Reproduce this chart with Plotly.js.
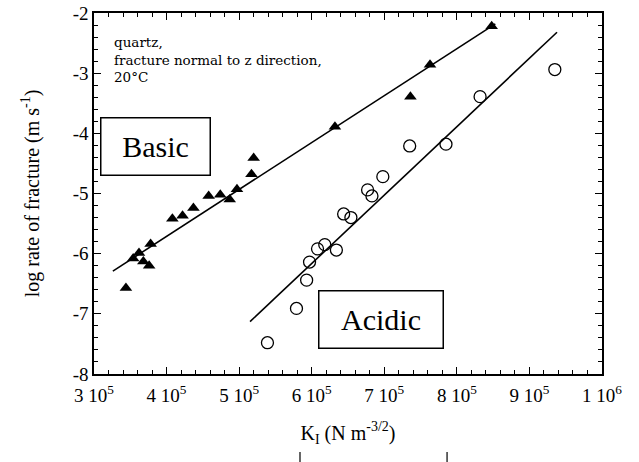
<!DOCTYPE html>
<html>
<head>
<meta charset="utf-8">
<script src="https://cdn.plot.ly/plotly-3.0.1.min.js"></script>
<style>
  html, body { margin: 0; padding: 0; background: #fff; }
  #chart { width: 639px; height: 462px; }
</style>
</head>
<body>
<div id="chart"></div>
<script>
// Fracture rate of quartz vs stress intensity factor K_I (N m^-3/2)
// Basic environment: filled triangles
const basicK = [3.44e5, 3.54e5, 3.62e5, 3.68e5, 3.76e5, 3.78e5, 4.08e5, 4.22e5, 4.37e5,
                4.58e5, 4.74e5, 4.87e5, 4.97e5, 5.17e5, 5.20e5, 6.32e5, 7.36e5, 7.63e5, 8.48e5];
const basicLogRate = [-6.57, -6.08, -5.99, -6.13, -6.20, -5.84, -5.42, -5.37, -5.24,
                      -5.04, -5.02, -5.10, -4.93, -4.68, -4.41, -3.89, -3.39, -2.86, -2.22];

// Acidic environment: open circles
const acidicK = [5.39e5, 5.79e5, 5.93e5, 5.97e5, 6.08e5, 6.18e5, 6.34e5, 6.44e5, 6.54e5,
                 6.77e5, 6.83e5, 6.98e5, 7.35e5, 7.85e5, 8.32e5, 9.35e5];
const acidicLogRate = [-7.48, -6.91, -6.44, -6.14, -5.92, -5.85, -5.94, -5.34, -5.40,
                       -4.94, -5.04, -4.72, -4.21, -4.18, -3.39, -2.94];

// Fitted trend lines (end points)
const basicFitK = [3.26e5, 8.53e5];
const basicFitLogRate = [-6.29, -2.18];
const acidicFitK = [5.15e5, 9.38e5];
const acidicFitLogRate = [-7.13, -2.32];

// Axis ticks
const xRange = [3e5, 1e6];
const yRange = [-8, -2];
const xTickVals = [3e5, 4e5, 5e5, 6e5, 7e5, 8e5, 9e5, 1e6];
const xTickText = ['3 10<sup>5</sup>', '4 10<sup>5</sup>', '5 10<sup>5</sup>', '6 10<sup>5</sup>',
                   '7 10<sup>5</sup>', '8 10<sup>5</sup>', '9 10<sup>5</sup>', '1 10<sup>6</sup>'];
const yTickVals = [-8, -7, -6, -5, -4, -3, -2];
const yTickText = ['-8', '-7', '-6', '-5', '-4', '-3', '-2'];

const serif = 'Liberation Serif, Times New Roman, serif';

const traces = [
  {
    x: basicFitK, y: basicFitLogRate, type: 'scatter', mode: 'lines',
    line: { color: '#000', width: 1.6 }, hoverinfo: 'skip'
  },
  {
    x: acidicFitK, y: acidicFitLogRate, type: 'scatter', mode: 'lines',
    line: { color: '#000', width: 1.6 }, hoverinfo: 'skip'
  },
  {
    x: basicK, y: basicLogRate, type: 'scatter', mode: 'markers', name: 'Basic',
    marker: { symbol: 'triangle-up', size: 11, color: '#000' }
  },
  {
    x: acidicK, y: acidicLogRate, type: 'scatter', mode: 'markers', name: 'Acidic',
    marker: { symbol: 'circle-open', size: 12, color: '#000', line: { width: 1.3, color: '#000' } }
  },
  // empty trace carrying the top/right tick axes
  { x: [], y: [], type: 'scatter', mode: 'markers', xaxis: 'x2', yaxis: 'y2', hoverinfo: 'skip' }
];

const axisCommon = {
  showgrid: false, zeroline: false, showline: true, linecolor: '#000', linewidth: 1.6,
  ticks: 'inside', ticklen: 7, tickwidth: 1.2, tickcolor: '#000',
  tickfont: { family: serif, size: 19, color: '#000' }
};
const xMinor = { tick0: 3e5, dtick: 2e4, ticks: 'inside', ticklen: 4, tickcolor: '#000', tickwidth: 1 };
const yMinor = { tick0: -8, dtick: 0.2, ticks: 'inside', ticklen: 4, tickcolor: '#000', tickwidth: 1 };

const layout = {
  width: 639, height: 462,
  margin: { l: 94, r: 37, t: 13, b: 88 },
  paper_bgcolor: '#fff', plot_bgcolor: '#fff',
  showlegend: false,
  xaxis: Object.assign({}, axisCommon, {
    range: xRange, tickmode: 'array', tickvals: xTickVals, ticktext: xTickText,
    ticklabelstandoff: 4, minor: xMinor,
    title: { text: 'K<sub>I</sub> (N m<sup>-3/2</sup>)', font: { family: serif, size: 20, color: '#000' }, standoff: 20 }
  }),
  yaxis: Object.assign({}, axisCommon, {
    range: yRange, tickmode: 'array', tickvals: yTickVals, ticktext: yTickText,
    minor: yMinor,
    title: { text: 'log rate of fracture (m s<sup>-1</sup>)', font: { family: serif, size: 20, color: '#000' }, standoff: 28 }
  }),
  xaxis2: Object.assign({}, axisCommon, {
    overlaying: 'x', side: 'top', anchor: 'y2', range: xRange,
    tickmode: 'array', tickvals: xTickVals, showticklabels: false, minor: xMinor
  }),
  yaxis2: Object.assign({}, axisCommon, {
    overlaying: 'y', side: 'right', anchor: 'x2', range: yRange,
    tickmode: 'array', tickvals: yTickVals, showticklabels: false, minor: yMinor
  }),
  annotations: [
    {
      xref: 'paper', yref: 'paper', x: 0.035, y: 0.947, xanchor: 'left', yanchor: 'top',
      align: 'left', showarrow: false,
      text: 'quartz,<br>fracture normal to z direction,<br>20°C',
      font: { family: 'DejaVu Serif, serif', size: 13.5, color: '#000' }
    },
    {
      xref: 'paper', yref: 'paper', x: 0.121, y: 0.630, xanchor: 'center', yanchor: 'middle',
      showarrow: false, text: 'Basic', width: 108, height: 56,
      bordercolor: '#000', borderwidth: 1.5, borderpad: 0, bgcolor: '#fff',
      font: { family: serif, size: 30, color: '#000' }
    },
    {
      xref: 'paper', yref: 'paper', x: 0.565, y: 0.151, xanchor: 'center', yanchor: 'middle',
      showarrow: false, text: 'Acidic', width: 123, height: 56,
      bordercolor: '#000', borderwidth: 1.5, borderpad: 0, bgcolor: '#fff',
      font: { family: serif, size: 30, color: '#000' }
    }
  ],
  shapes: [
    { type: 'line', xref: 'paper', yref: 'paper', x0: 0.4055, x1: 0.4055, y0: -0.216, y1: -0.26,
      line: { color: '#000', width: 1.2 } },
    { type: 'line', xref: 'paper', yref: 'paper', x0: 0.695, x1: 0.695, y0: -0.216, y1: -0.26,
      line: { color: '#000', width: 1.2 } }
  ]
};

Plotly.newPlot('chart', traces, layout, { displayModeBar: false, staticPlot: true });
</script>
</body>
</html>
